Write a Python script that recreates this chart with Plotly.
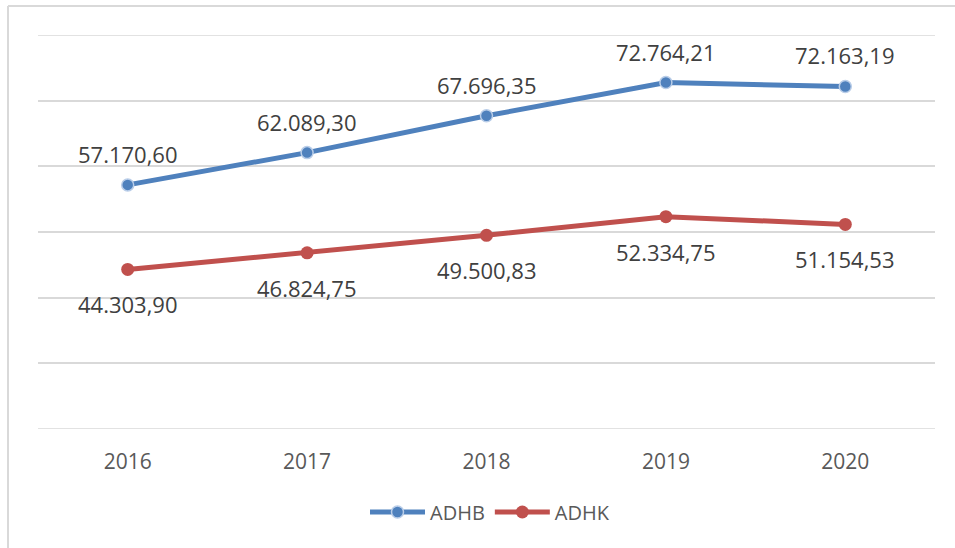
import plotly.graph_objects as go

years = ["2016", "2017", "2018", "2019", "2020"]
adhb = [57170.60, 62089.30, 67696.35, 72764.21, 72163.19]
adhk = [44303.90, 46824.75, 49500.83, 52334.75, 51154.53]
series_names = ["ADHB", "ADHK"]
y_min, y_max, y_step = 20000, 80000, 10000


def fmt_id(v):
    s = f"{v:,.2f}"
    return s.replace(",", "#").replace(".", ",").replace("#", ".")


W, H = 955, 548
ML, MR, MT, MB = 38, 20, 35, 119
PW, PH = W - ML - MR, H - MT - MB
LABEL_FONT = dict(family="Open Sans", size=22, color="#404040")

fig = go.Figure()
fig.add_trace(go.Scatter(
    x=years, y=adhb, name=series_names[0], mode="lines+markers",
    line=dict(color="#4F81BD", width=5),
    marker=dict(size=12, color="#4F81BD", line=dict(color="#B9CDE8", width=1.5)),
    cliponaxis=False,
))
fig.add_trace(go.Scatter(
    x=years, y=adhk, name=series_names[1], mode="lines+markers",
    line=dict(color="#C0504D", width=5),
    marker=dict(size=13, color="#C0504D"),
    cliponaxis=False,
))

# data labels (category index positions)
for i, yv in enumerate(adhb):
    fig.add_annotation(x=i, y=yv, xref="x", yref="y", text=fmt_id(yv),
                       showarrow=False, yshift=31, font=LABEL_FONT)
for i, yv in enumerate(adhk):
    fig.add_annotation(x=i, y=yv, xref="x", yref="y", text=fmt_id(yv),
                       showarrow=False, yshift=-35, font=LABEL_FONT)

# edge gridlines (plotly drops gridlines lying on the range ends)
for gv in (y_min, y_max):
    fig.add_shape(type="line", xref="paper", yref="y", x0=0, x1=1, y0=gv, y1=gv,
                  line=dict(color="#D9D9D9", width=1.5), layer="below")

# outer chart border (left and top visible in reference)
px2x = lambda p: (p - ML) / PW
py2y = lambda p: 1 - (p - MT) / PH
fig.add_shape(type="line", xref="paper", yref="paper",
              x0=px2x(8), x1=px2x(8), y0=py2y(6), y1=py2y(560),
              line=dict(color="#D9D9D9", width=2))
fig.add_shape(type="line", xref="paper", yref="paper",
              x0=px2x(8), x1=px2x(970), y0=py2y(6), y1=py2y(6),
              line=dict(color="#D9D9D9", width=2))

fig.update_layout(
    width=W, height=H,
    margin=dict(l=ML, r=MR, t=MT, b=MB),
    paper_bgcolor="white", plot_bgcolor="white",
    font=dict(family="Open Sans", color="#595959"),
    showlegend=True,
    legend=dict(orientation="h", x=px2x(490), xanchor="center",
                y=py2y(512), yanchor="middle",
                font=dict(family="Open Sans", size=20, color="#595959"),
                itemwidth=55, traceorder="normal"),
    xaxis=dict(type="category", range=[-0.5, 4.5], showgrid=False,
               showline=False, zeroline=False, ticks="",
               tickfont=dict(family="Open Sans", size=21, color="#595959"),
               ticklabelstandoff=18),
    yaxis=dict(range=[y_min, y_max], dtick=y_step, tick0=0,
               showgrid=True, gridcolor="#D9D9D9", gridwidth=1.5,
               showticklabels=False, zeroline=False, showline=False,
               fixedrange=True),
)

fig.write_html("out.html", config={"displayModeBar": False})
with open("out.html", "r", encoding="utf-8") as f:
    html = f.read()
html = html.replace("<head>", "<head><style>html,body{margin:0;padding:0;overflow:hidden;}</style>", 1)
with open("out.html", "w", encoding="utf-8") as f:
    f.write(html)
